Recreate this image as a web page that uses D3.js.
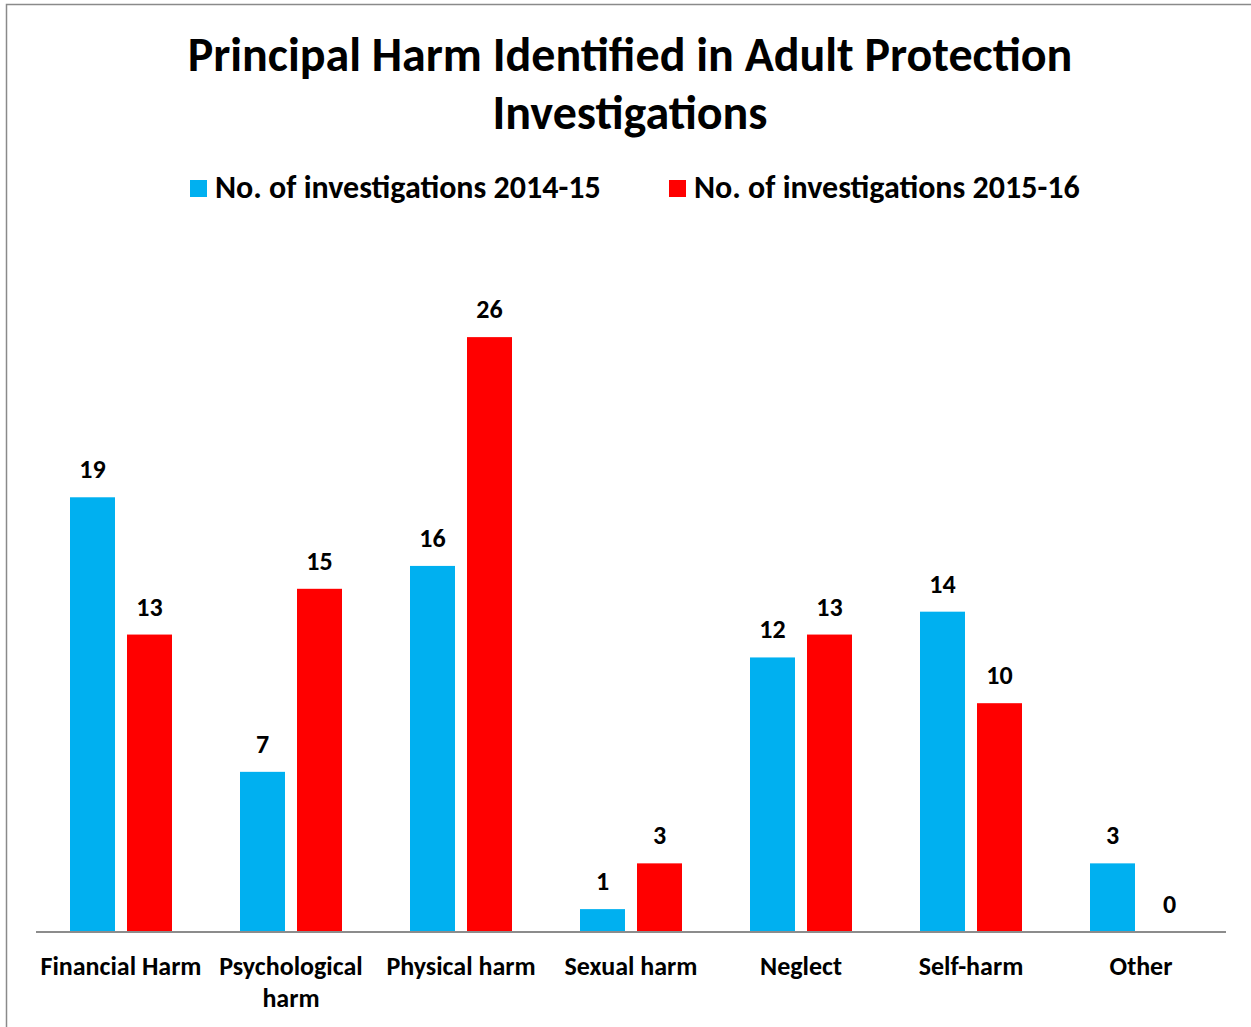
<!DOCTYPE html>
<html>
<head>
<meta charset="utf-8">
<script src="https://cdn.jsdelivr.net/npm/d3@7"></script>
<style>
  html, body { margin: 0; padding: 0; background: #fff; }
  svg { display: block; }
  text { font-family: Carlito, Lato, "Open Sans", sans-serif; font-weight: 700; fill: #000; }
</style>
</head>
<body>
<svg id="chart" width="1251" height="1027"></svg>
<script>
const titleLines = ["Principal Harm Identified in Adult Protection", "Investigations"];
const categories = ["Financial Harm", "Psychological harm", "Physical harm", "Sexual harm", "Neglect", "Self-harm", "Other"];
const seriesNames = ["No. of investigations 2014-15", "No. of investigations 2015-16"];
const values2014 = [19, 7, 16, 1, 12, 14, 3];
const values2015 = [13, 15, 26, 3, 13, 10, 0];
const seriesColors = ["#00B0F0", "#FF0000"];

const svg = d3.select("#chart");
const W = 1251, H = 1027;

// outer frame (extends beyond the viewport on right/bottom)
svg.append("rect")
  .attr("x", 6.5).attr("y", 4.5)
  .attr("width", W + 20).attr("height", H + 20)
  .attr("fill", "none").attr("stroke", "#8a8a8a").attr("stroke-width", 1.5);

// title
svg.append("g").selectAll("text").data(titleLines).join("text")
  .attr("x", 630).attr("y", (d, i) => 71 + i * 58)
  .attr("text-anchor", "middle")
  .style("font-size", "48px")
  .text(d => d);

// scales
const x0 = d3.scaleBand().domain(categories).range([36, 1226]).paddingInner(0).paddingOuter(0);
const x1 = d3.scaleBand().domain([0, 1]).range([34, 136]).paddingInner(12 / 57).paddingOuter(0);
const y = d3.scaleLinear().domain([0, 30]).range([932, 245.6]);

const data = categories.map((c, i) => ({ cat: c, vals: [values2014[i], values2015[i]] }));

const groups = svg.append("g").selectAll("g").data(data).join("g")
  .attr("transform", d => `translate(${x0(d.cat)},0)`);

groups.selectAll("rect").data(d => d.vals.map((v, k) => ({ v, k }))).join("rect")
  .attr("x", d => x1(d.k))
  .attr("y", d => y(d.v))
  .attr("width", x1.bandwidth())
  .attr("height", d => y(0) - y(d.v))
  .attr("fill", d => seriesColors[d.k]);

groups.selectAll("text.val").data(d => d.vals.map((v, k) => ({ v, k }))).join("text")
  .attr("class", "val")
  .attr("x", d => x1(d.k) + x1.bandwidth() / 2)
  .attr("y", d => y(d.v) - 19)
  .attr("text-anchor", "middle")
  .style("font-size", "26px")
  .text(d => d.v);

// x axis
const xAxis = d3.axisBottom(x0).tickSize(0).tickPadding(0);
const axisG = svg.append("g").attr("transform", `translate(0,${y(0)})`).call(xAxis);
axisG.select(".domain").attr("stroke", "#8c8c8c").attr("stroke-width", 2)
  .attr("d", `M36,0H1226`);
axisG.selectAll(".tick text").remove();

// category labels with wrapping
const labelG = svg.append("g");
categories.forEach(c => {
  const cx = x0(c) + x0.bandwidth() / 2;
  const t = labelG.append("text")
    .attr("x", cx)
    .attr("y", 975)
    .attr("text-anchor", "middle")
    .style("font-size", "26px");
  const words = c.split(" ");
  let line = [];
  let tspan = t.append("tspan").attr("x", cx).attr("dy", 0);
  words.forEach(w => {
    line.push(w);
    tspan.text(line.join(" "));
    if (tspan.node().getComputedTextLength() > 168 && line.length > 1) {
      line.pop();
      tspan.text(line.join(" "));
      line = [w];
      tspan = t.append("tspan").attr("x", cx).attr("dy", 32).text(w);
    }
  });
});

// legend
const legendX = [190, 669];
const lg = svg.append("g").selectAll("g").data(seriesNames).join("g")
  .attr("transform", (d, i) => `translate(${legendX[i]},0)`);
lg.append("rect").attr("x", 0).attr("y", 180).attr("width", 17).attr("height", 17)
  .attr("fill", (d, i) => seriesColors[i]);
lg.append("text").attr("x", 25).attr("y", 198)
  .style("font-size", "32px")
  .text(d => d);
</script>
</body>
</html>
